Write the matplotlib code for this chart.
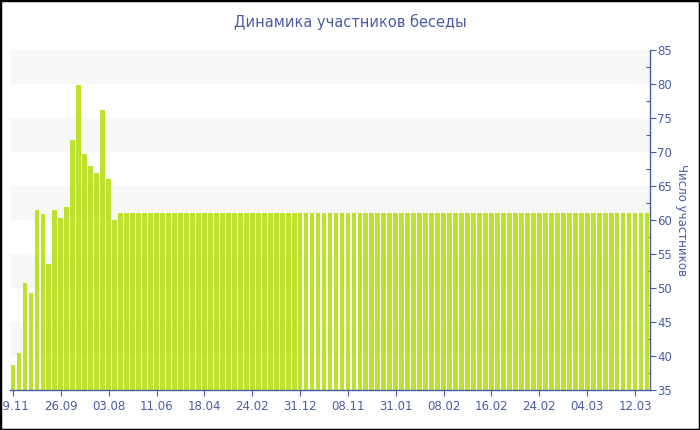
import matplotlib
matplotlib.use("Agg")
import matplotlib.pyplot as plt
from matplotlib.patches import Rectangle
from matplotlib.ticker import MultipleLocator

# participant counts per snapshot
head_values = [38.7, 40.5, 50.8, 49.3, 61.5, 60.9, 53.5, 61.5, 60.4, 61.9,
               71.8, 79.9, 69.7, 68.0, 67.0, 76.2, 66.1, 60.0]
flat_values = [61.0] * 89
values = head_values + flat_values

tick_labels = ["19.11", "26.09", "03.08", "11.06", "18.04", "24.02", "31.12",
               "08.11", "31.01", "08.02", "16.02", "24.02", "04.03", "12.03"]
tick_step = 8

title = "Динамика участников беседы"
ylabel = "Число участников"

blue = "#4a5ca4"
bar_color = "#bde12e"
band_color = "#f7f7f7"

fig = plt.figure(figsize=(7.0, 4.3), dpi=100)
ax = fig.add_axes([10 / 700, 39.7 / 430, 640 / 700, 340 / 430])

for lo in range(40, 85, 10):
    ax.axhspan(lo, lo + 5, color=band_color, zorder=0, lw=0)

x = list(range(len(values)))
ax.bar(x, values, width=0.8, color=bar_color, zorder=2, linewidth=0)

ax.set_xlim(-0.5, len(values) - 0.5)
ax.set_ylim(35, 85)

ax.set_xticks(x[::tick_step])
ax.set_xticklabels(tick_labels)

ax.yaxis.tick_right()
ax.yaxis.set_label_position("right")
ax.yaxis.set_major_locator(MultipleLocator(5))
ax.yaxis.set_minor_locator(MultipleLocator(2.5))

for side in ["left", "top"]:
    ax.spines[side].set_visible(False)
for side in ["right", "bottom"]:
    ax.spines[side].set_color(blue)
    ax.spines[side].set_linewidth(1.0)

ax.tick_params(axis="x", colors=blue, labelsize=8.5, length=4, width=0.8, pad=3)
ax.tick_params(axis="y", which="major", colors=blue, labelsize=8.5, length=4, width=0.8, pad=1)
ax.tick_params(axis="y", which="minor", colors=blue, length=3, width=0.8, direction="in")

ax.set_ylabel(ylabel, color=blue, fontsize=8.5, rotation=270, labelpad=12)
fig.text(0.5, 1 - 22 / 430, title, color=blue, fontsize=10.5, ha="center", va="center")

fig.patches.append(Rectangle((0, 0), 1, 1, transform=fig.transFigure,
                             fill=False, edgecolor="black", linewidth=2.5))

fig.savefig("out.png", dpi=100)
